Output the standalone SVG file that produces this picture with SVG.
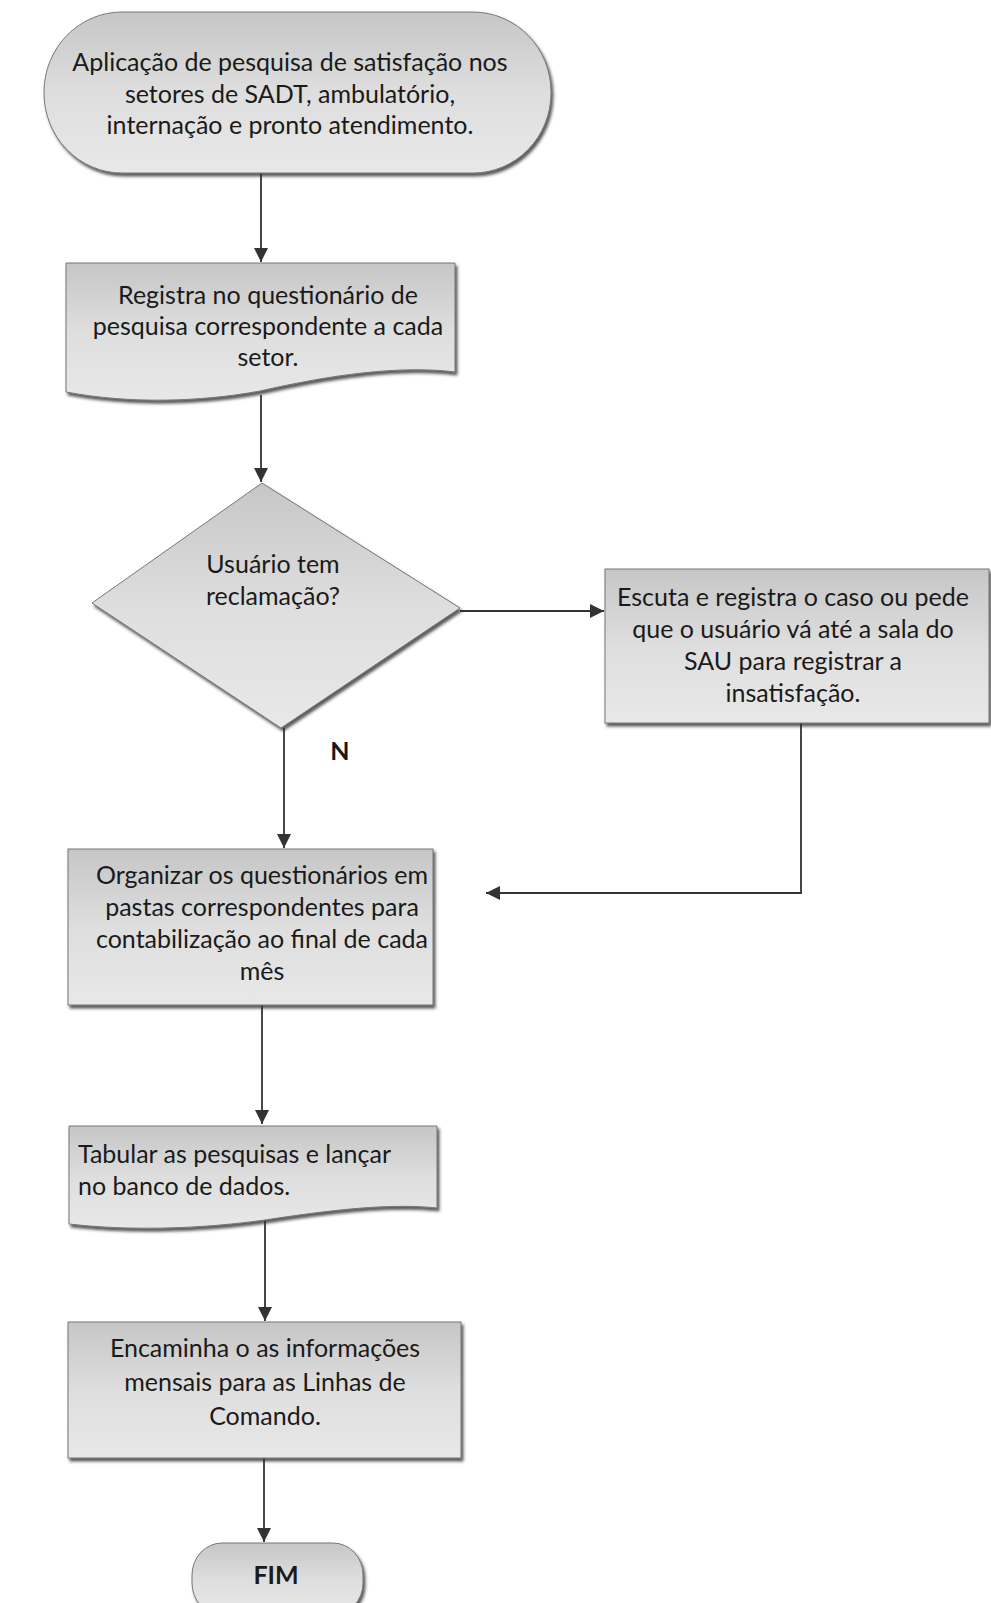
<svg xmlns="http://www.w3.org/2000/svg" width="991" height="1603" viewBox="0 0 991 1603">
<defs>
<linearGradient id="g" x1="0" y1="0" x2="0" y2="1">
<stop offset="0" stop-color="#c6c6c6"/>
<stop offset="0.5" stop-color="#dedede"/>
<stop offset="1" stop-color="#e8e8e8"/>
</linearGradient>
<filter id="sh" x="-5%" y="-5%" width="115%" height="120%">
<feDropShadow dx="2" dy="3" stdDeviation="1.5" flood-color="#333" flood-opacity="0.8"/>
</filter>
<marker id="ah" markerUnits="userSpaceOnUse" markerWidth="16" markerHeight="16" viewBox="0 0 16 16" refX="15" refY="8" orient="auto">
<path d="M1,1 L15,8 L1,15 Z" fill="#333"/>
</marker>
<style>
.s{fill:url(#g);stroke:#777;stroke-width:1;filter:url(#sh)}
.t{font-family:Lato,"Open Sans",sans-serif;font-size:25px;fill:#1a1a1a;text-anchor:middle}
.l{text-anchor:start}
.b{font-weight:bold}
.c{fill:none;stroke:#333;stroke-width:1.8;marker-end:url(#ah)}
</style>
</defs>
<rect width="991" height="1603" fill="#fff"/>
<g id="connectors">
<path class="c" d="M261,173 V262"/>
<path class="c" d="M261,395 V482"/>
<path class="c" d="M460,611 H604"/>
<path class="c" d="M284,728 V848"/>
<path class="c" d="M801,723 V893 H486"/>
<path class="c" d="M262,1005 V1124"/>
<path class="c" d="M265,1216 V1321"/>
<path class="c" d="M264,1458 V1542"/>
</g>
<g id="n1">
<rect class="s" x="44" y="12" width="507" height="161" rx="78" ry="80"/>
<text class="t" x="290" y="71">Aplicação de pesquisa de satisfação nos</text>
<text class="t" x="290" y="103">setores de SADT, ambulatório,</text>
<text class="t" x="290" y="134">internação e pronto atendimento.</text>
</g>
<g id="n2">
<path class="s" d="M66,263 H455 V372 C400,365 330,375 260,391 C200,402 130,404 66,392 Z"/>
<text class="t" x="268" y="304">Registra no questionário de</text>
<text class="t" x="268" y="335">pesquisa correspondente a cada</text>
<text class="t" x="268" y="366">setor.</text>
</g>
<g id="n3">
<path class="s" d="M262,483 L460,608 L281,728 L92,603 Z"/>
<text class="t" x="273" y="573">Usuário tem</text>
<text class="t" x="273" y="605">reclamação?</text>
</g>
<g id="n4">
<rect class="s" x="605" y="569" width="384" height="154"/>
<text class="t" x="793" y="606">Escuta e registra o caso ou pede</text>
<text class="t" x="793" y="638">que o usuário vá até a sala do</text>
<text class="t" x="793" y="670">SAU para registrar a</text>
<text class="t" x="793" y="702">insatisfação.</text>
</g>
<text id="lblN" class="t b" x="340" y="760">N</text>
<g id="n5">
<rect class="s" x="68" y="849" width="365" height="156"/>
<text class="t" x="262" y="884">Organizar os questionários em</text>
<text class="t" x="262" y="916">pastas correspondentes para</text>
<text class="t" x="262" y="948">contabilização ao final de cada</text>
<text class="t" x="262" y="980">mês</text>
</g>
<g id="n6">
<path class="s" d="M69,1126 H437 V1208 C390,1203 330,1210 265,1220 C200,1229 130,1231 69,1224 Z"/>
<text class="t l" x="78" y="1163">Tabular as pesquisas e lançar</text>
<text class="t l" x="78" y="1195">no banco de dados.</text>
</g>
<g id="n7">
<rect class="s" x="68" y="1322" width="393" height="136"/>
<text class="t" x="265" y="1357">Encaminha o as informações</text>
<text class="t" x="265" y="1391">mensais para as Linhas de</text>
<text class="t" x="265" y="1425">Comando.</text>
</g>
<g id="n8">
<rect class="s" x="192" y="1543" width="171" height="72" rx="30" ry="32"/>
<text class="t b" x="276" y="1584">FIM</text>
</g>
</svg>
